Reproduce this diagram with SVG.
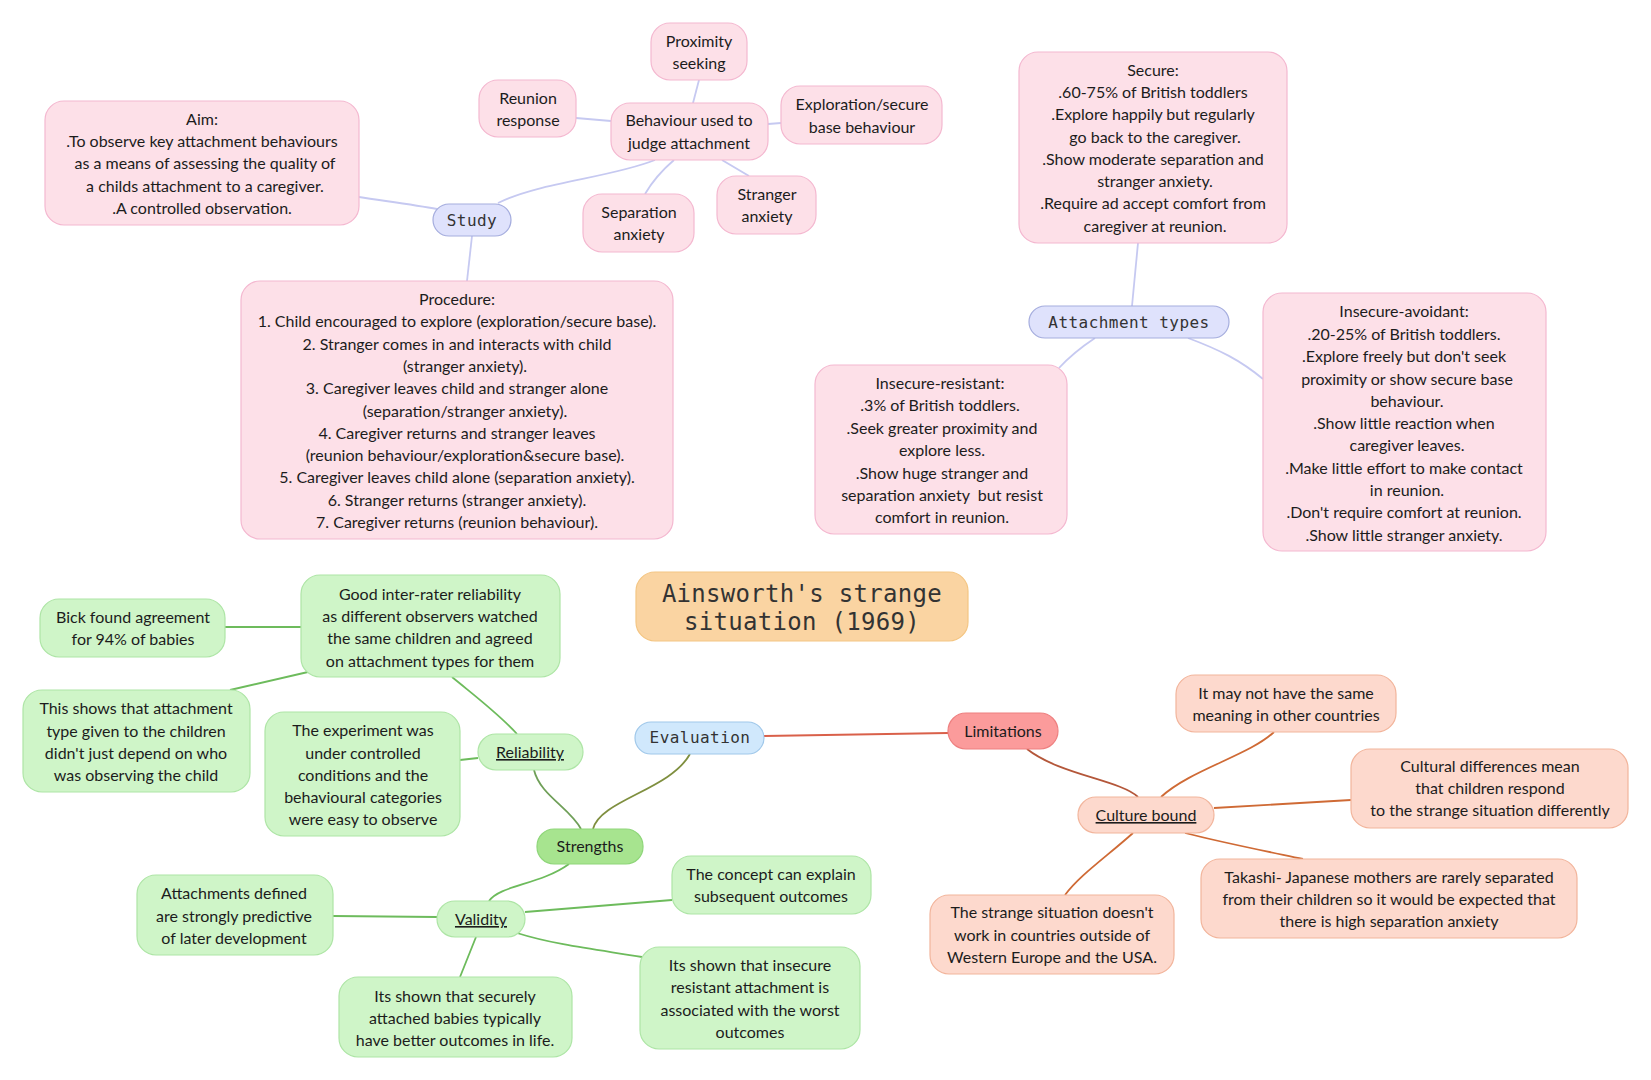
<svg xmlns="http://www.w3.org/2000/svg" width="1651" height="1080" viewBox="0 0 1651 1080">
<style>
text{font-family:"Lato","Open Sans","Liberation Sans",sans-serif;font-size:16px;fill:#1c1c1c;text-anchor:middle;white-space:pre}
.m{font-family:"DejaVu Sans Mono","Liberation Mono",monospace;letter-spacing:.45px;fill:#333}
.ti{font-size:24px;letter-spacing:.3px}
.u{text-decoration:underline}
rect{stroke-width:1.2}
.pk{fill:#fde0e8;stroke:#f4b8d0}.lv{fill:#dfe2fc;stroke:#a5adde}.gr{fill:#cff5c8;stroke:#aee5a6}.pe{fill:#fdd9cd;stroke:#f2b59c}
.st{fill:#a7e48f;stroke:#8fd67a}.ev{fill:#d0e8fc;stroke:#a0c8ea}.li{fill:#fb9b9b;stroke:#ee8080}.tt{fill:#fad4a2;stroke:#f4c684}
path{fill:none;stroke-width:1.8}
.cl{stroke:#c6c9f1}.cg{stroke:#6dbb5c}.co{stroke:#cf6a35}
</style>
<g id="connectors">
<path class="cl" d="M359 197C385 201 415 205 437 209"/>
<path class="cl" d="M498 203C540 182 610 178 655 160"/>
<path class="cl" d="M472 236L467 281"/>
<path class="cl" d="M699 80L693 103"/>
<path class="cl" d="M576 118L611 121"/>
<path class="cl" d="M781 123L768 124"/>
<path class="cl" d="M674 160C660 172 652 182 645 194"/>
<path class="cl" d="M722 160L749 176"/>
<path class="cl" d="M1138 243L1132 306"/>
<path class="cl" d="M1095 338C1080 348 1070 356 1059 368"/>
<path class="cl" d="M1188 338C1220 350 1240 360 1263 379"/>
<path class="cg" d="M225 627H301"/>
<path class="cg" d="M308 672L230 690"/>
<path class="cg" d="M452 677C480 700 500 715 517 734"/>
<path class="cg" d="M478 758L460 760"/>
<path style="stroke:#6f9f58" d="M534 770C540 795 570 808 581 829"/>
<path style="stroke:#7f8f3f" d="M690 754C670 790 600 800 593 829"/>
<path style="stroke:#d9604a" d="M764 736L948 733"/>
<path style="stroke:#b4573a" d="M1027 749C1060 775 1120 780 1138 797"/>
<path class="co" d="M1161 797C1190 770 1250 755 1274 732"/>
<path class="co" d="M1214 808L1351 800"/>
<path class="co" d="M1185 833C1220 842 1260 850 1303 859"/>
<path class="co" d="M1133 833C1105 858 1080 875 1065 895"/>
<path class="cg" d="M569 864C540 885 500 885 489 901"/>
<path class="cg" d="M437 917L333 916"/>
<path class="cg" d="M525 912L672 900"/>
<path class="cg" d="M517 933C555 945 600 950 642 957"/>
<path class="cg" d="M476 937L460 977"/>
</g>
<g id="n-proximity"><rect class="pk" x="651" y="23" width="96" height="57" rx="19"/><text><tspan x="699" y="47">Proximity</tspan><tspan x="699" y="69">seeking</tspan></text></g>
<g id="n-reunion"><rect class="pk" x="479" y="80" width="97" height="57" rx="19"/><text><tspan x="528" y="104">Reunion</tspan><tspan x="528" y="126">response</tspan></text></g>
<g id="n-behaviour"><rect class="pk" x="611" y="103" width="157" height="57" rx="19"/><text><tspan x="689" y="126">Behaviour used to</tspan><tspan x="689" y="149">judge attachment</tspan></text></g>
<g id="n-exploration"><rect class="pk" x="781" y="86" width="161" height="58" rx="19"/><text><tspan x="862" y="110">Exploration/secure</tspan><tspan x="862" y="133">base behaviour</tspan></text></g>
<g id="n-separation"><rect class="pk" x="583" y="194" width="111" height="58" rx="19"/><text><tspan x="639" y="218">Separation</tspan><tspan x="639" y="240">anxiety</tspan></text></g>
<g id="n-stranger"><rect class="pk" x="717" y="176" width="99" height="58" rx="19"/><text><tspan x="767" y="200">Stranger</tspan><tspan x="767" y="222">anxiety</tspan></text></g>
<g id="n-aim"><rect class="pk" x="45" y="101" width="314" height="124" rx="19"/><text><tspan x="202" y="125">Aim:</tspan><tspan x="202" y="147">.To observe key attachment behaviours</tspan><tspan x="205" y="169">as a means of assessing the quality of</tspan><tspan x="205" y="192">a childs attachment to a caregiver.</tspan><tspan x="202" y="214">.A controlled observation.</tspan></text></g>
<g id="n-study"><rect class="lv" x="433" y="204" width="78" height="32" rx="16"/><text class="m" x="472" y="226">Study</text></g>
<g id="n-procedure"><rect class="pk" x="241" y="281" width="432" height="258" rx="19"/><text><tspan x="457" y="305">Procedure:</tspan><tspan x="457" y="327">1. Child encouraged to explore (exploration/secure base).</tspan><tspan x="457" y="350">2. Stranger comes in and interacts with child</tspan><tspan x="465" y="372">(stranger anxiety).</tspan><tspan x="457" y="394">3. Caregiver leaves child and stranger alone</tspan><tspan x="465" y="417">(separation/stranger anxiety).</tspan><tspan x="457" y="439">4. Caregiver returns and stranger leaves</tspan><tspan x="465" y="461">(reunion behaviour/exploration&amp;secure base).</tspan><tspan x="457" y="483">5. Caregiver leaves child alone (separation anxiety).</tspan><tspan x="457" y="506">6. Stranger returns (stranger anxiety).</tspan><tspan x="457" y="528">7. Caregiver returns (reunion behaviour).</tspan></text></g>
<g id="n-secure"><rect class="pk" x="1019" y="52" width="268" height="191" rx="19"/><text><tspan x="1153" y="76">Secure:</tspan><tspan x="1153" y="98">.60-75% of British toddlers</tspan><tspan x="1153" y="120">.Explore happily but regularly</tspan><tspan x="1155" y="143">go back to the caregiver.</tspan><tspan x="1153" y="165">.Show moderate separation and</tspan><tspan x="1155" y="187">stranger anxiety.</tspan><tspan x="1153" y="209">.Require ad accept comfort from</tspan><tspan x="1155" y="232">caregiver at reunion.</tspan></text></g>
<g id="n-attachment"><rect class="lv" x="1029" y="306" width="200" height="32" rx="16"/><text class="m" x="1129" y="328">Attachment types</text></g>
<g id="n-avoidant"><rect class="pk" x="1263" y="293" width="283" height="258" rx="19"/><text><tspan x="1404" y="317">Insecure-avoidant:</tspan><tspan x="1404" y="340">.20-25% of British toddlers.</tspan><tspan x="1404" y="362">.Explore freely but don't seek</tspan><tspan x="1407" y="385">proximity or show secure base</tspan><tspan x="1407" y="407">behaviour.</tspan><tspan x="1404" y="429">.Show little reaction when</tspan><tspan x="1407" y="451">caregiver leaves.</tspan><tspan x="1404" y="474">.Make little effort to make contact</tspan><tspan x="1407" y="496">in reunion.</tspan><tspan x="1404" y="518">.Don't require comfort at reunion.</tspan><tspan x="1404" y="541">.Show little stranger anxiety.</tspan></text></g>
<g id="n-resistant"><rect class="pk" x="815" y="365" width="252" height="169" rx="19"/><text><tspan x="940" y="389">Insecure-resistant:</tspan><tspan x="940" y="411">.3% of British toddlers.</tspan><tspan x="942" y="434">.Seek greater proximity and</tspan><tspan x="942" y="456">explore less.</tspan><tspan x="942" y="479">.Show huge stranger and</tspan><tspan x="942" y="501">separation anxiety  but resist</tspan><tspan x="942" y="523">comfort in reunion.</tspan></text></g>
<g id="n-title"><rect class="tt" x="636" y="572" width="332" height="69" rx="19"/><text class="m ti"><tspan x="802" y="602">Ainsworth's strange</tspan><tspan x="802" y="630">situation (1969)</tspan></text></g>
<g id="n-bick"><rect class="gr" x="40" y="599" width="185" height="58" rx="19"/><text><tspan x="133" y="623">Bick found agreement</tspan><tspan x="133" y="645">for 94% of babies</tspan></text></g>
<g id="n-good"><rect class="gr" x="301" y="575" width="259" height="102" rx="19"/><text><tspan x="430" y="600">Good inter-rater reliability</tspan><tspan x="430" y="622">as different observers watched</tspan><tspan x="430" y="644">the same children and agreed</tspan><tspan x="430" y="667">on attachment types for them</tspan></text></g>
<g id="n-this"><rect class="gr" x="23" y="690" width="227" height="102" rx="19"/><text><tspan x="136" y="714">This shows that attachment</tspan><tspan x="136" y="737">type given to the children</tspan><tspan x="136" y="759">didn't just depend on who</tspan><tspan x="136" y="781">was observing the child</tspan></text></g>
<g id="n-experiment"><rect class="gr" x="265" y="712" width="195" height="124" rx="19"/><text><tspan x="363" y="736">The experiment was</tspan><tspan x="363" y="759">under controlled</tspan><tspan x="363" y="781">conditions and the</tspan><tspan x="363" y="803">behavioural categories</tspan><tspan x="363" y="825">were easy to observe</tspan></text></g>
<g id="n-reliability"><rect class="gr" x="478" y="734" width="105" height="36" rx="18"/><text class="u" x="530" y="758">Reliability</text></g>
<g id="n-evaluation"><rect class="ev" x="635" y="722" width="129" height="32" rx="16"/><text class="m" x="700" y="743">Evaluation</text></g>
<g id="n-limitations"><rect class="li" x="948" y="713" width="110" height="36" rx="18"/><text x="1003" y="737">Limitations</text></g>
<g id="n-strengths"><rect class="st" x="537" y="829" width="106" height="35" rx="17"/><text x="590" y="852">Strengths</text></g>
<g id="n-validity"><rect class="gr" x="437" y="901" width="88" height="36" rx="18"/><text class="u" x="481" y="925">Validity</text></g>
<g id="n-attachments"><rect class="gr" x="137" y="875" width="196" height="80" rx="19"/><text><tspan x="234" y="899">Attachments defined</tspan><tspan x="234" y="922">are strongly predictive</tspan><tspan x="234" y="944">of later development</tspan></text></g>
<g id="n-concept"><rect class="gr" x="672" y="856" width="199" height="58" rx="19"/><text><tspan x="771" y="880">The concept can explain</tspan><tspan x="771" y="902">subsequent outcomes</tspan></text></g>
<g id="n-insecure"><rect class="gr" x="640" y="947" width="220" height="102" rx="19"/><text><tspan x="750" y="971">Its shown that insecure</tspan><tspan x="750" y="993">resistant attachment is</tspan><tspan x="750" y="1016">associated with the worst</tspan><tspan x="750" y="1038">outcomes</tspan></text></g>
<g id="n-securely"><rect class="gr" x="339" y="977" width="233" height="80" rx="19"/><text><tspan x="455" y="1002">Its shown that securely</tspan><tspan x="455" y="1024">attached babies typically</tspan><tspan x="455" y="1046">have better outcomes in life.</tspan></text></g>
<g id="n-itmay"><rect class="pe" x="1176" y="675" width="220" height="57" rx="19"/><text><tspan x="1286" y="699">It may not have the same</tspan><tspan x="1286" y="721">meaning in other countries</tspan></text></g>
<g id="n-cultural"><rect class="pe" x="1351" y="749" width="277" height="79" rx="19"/><text><tspan x="1490" y="772">Cultural differences mean</tspan><tspan x="1490" y="794">that children respond</tspan><tspan x="1490" y="816">to the strange situation differently</tspan></text></g>
<g id="n-takashi"><rect class="pe" x="1201" y="859" width="376" height="79" rx="19"/><text><tspan x="1389" y="883">Takashi- Japanese mothers are rarely separated</tspan><tspan x="1389" y="905">from their children so it would be expected that</tspan><tspan x="1389" y="927">there is high separation anxiety</tspan></text></g>
<g id="n-strange"><rect class="pe" x="930" y="895" width="244" height="79" rx="19"/><text><tspan x="1052" y="918">The strange situation doesn't</tspan><tspan x="1052" y="941">work in countries outside of</tspan><tspan x="1052" y="963">Western Europe and the USA.</tspan></text></g>
<g id="n-culture"><rect class="pe" x="1078" y="797" width="136" height="36" rx="18"/><text class="u" x="1146" y="821">Culture bound</text></g>
</svg>
